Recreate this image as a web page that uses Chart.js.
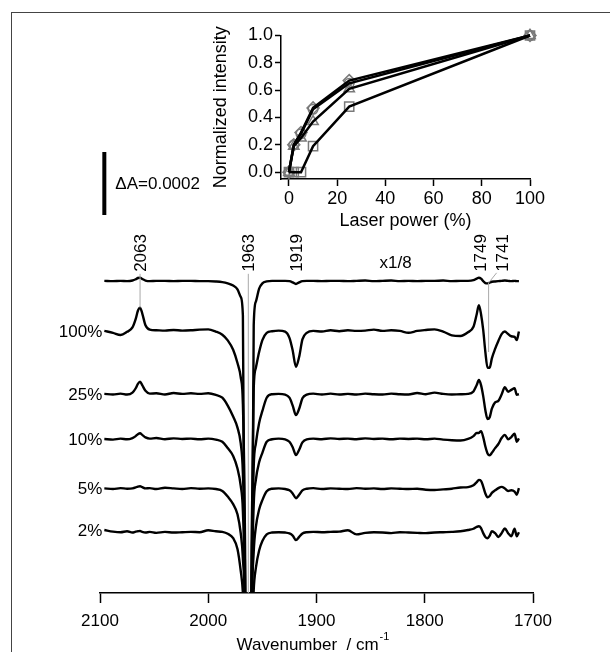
<!DOCTYPE html>
<html>
<head>
<meta charset="utf-8">
<script src="https://cdn.jsdelivr.net/npm/chart.js@4.4.0/dist/chart.umd.min.js"></script>
<style>
  html, body { margin: 0; padding: 0; background: #fff; overflow: hidden; }
  #wrap { position: relative; width: 610px; height: 652px; overflow: hidden; }
  #frame { position: absolute; left: 11px; top: 12px; width: 800px; height: 800px; border: 1.5px solid #444; }
  canvas { position: absolute; left: 0; top: 0; }
</style>
</head>
<body>
<div id="wrap">
  <div id="frame"></div>
  <canvas id="spectra" width="610" height="652"></canvas>
  <canvas id="inset" width="610" height="652"></canvas>
</div>
<script>
// Difference spectra, offset for display. Units: absorbance x 1e5
const wavenumbers = [
  2096, 2088, 2081, 2075, 2070, 2067, 2065, 2063, 2061,
  2058, 2054, 2048, 2040, 2032, 2024, 2016, 2008, 2000,
  1993, 1987, 1982, 1977, 1973, 1970, 1968, 1966, 1963,
  1960, 1958, 1956, 1953, 1950, 1946, 1941, 1935, 1929,
  1925, 1922, 1919, 1916, 1913, 1909, 1903, 1895, 1887,
  1879, 1871, 1863, 1855, 1847, 1839, 1831, 1823, 1815,
  1807, 1799, 1791, 1783, 1775, 1767, 1760, 1755, 1752,
  1750, 1748, 1746, 1744, 1742, 1740, 1738, 1735, 1732,
  1729, 1726, 1723, 1720, 1717, 1715, 1713
];

// reference spectrum, scaled x1/8
const traceTop = [
  99.1, 99.0, 99.1, 99.0, 99.2, 99.6, 100.0, 100.1, 99.7,
  99.2, 99.0, 99.1, 99.1, 99.0, 99.1, 99.1, 99.0, 99.0,
  98.9, 98.7, 98.3, 97.6, 96.4, 94.0, 88.0, -30, -150,
  -30, 85.0, 92.5, 96.6, 98.3, 98.9, 99.1, 99.1, 99.1,
  99.0, 98.6, 98.1, 98.6, 99.0, 99.1, 99.1, 99.0, 99.1,
  99.1, 99.0, 99.1, 99.2, 99.0, 99.1, 99.2, 99.0, 99.1,
  99.0, 99.1, 99.1, 99.2, 99.0, 99.1, 99.1, 99.3, 99.8,
  100.1, 99.8, 99.0, 98.4, 98.3, 98.5, 98.8, 98.9, 99.0,
  99.1, 99.2, 99.1, 99.0, 99.1, 99.0, 99.0
];

const trace100 = [
  83.2, 82.6, 81.9, 82.9, 84.3, 87.0, 89.6, 90.6, 88.8,
  85.0, 83.6, 83.4, 83.3, 83.5, 83.3, 83.4, 83.6, 83.7,
  83.0, 82.0, 80.2, 77.2, 73.0, 68.5, 60.0, 15, -150,
  15, 65.0, 71.5, 76.5, 80.3, 82.6, 83.1, 83.3, 83.0,
  81.0, 77.0, 71.8, 75.0, 80.5, 82.6, 83.2, 83.0, 83.4,
  83.1, 83.4, 83.2, 83.3, 83.6, 83.2, 83.4, 83.2, 82.6,
  83.2, 83.5, 83.7, 83.0, 81.8, 81.6, 82.8, 84.5, 88.5,
  91.4, 88.5, 83.5, 76.5, 71.5, 71.5, 74.5, 77.5, 80.0,
  82.2, 83.0, 82.2, 81.5, 81.3, 80.3, 83.0
];

const trace25 = [
  63.2, 63.0, 63.3, 63.0, 63.6, 65.0, 66.4, 67.1, 66.0,
  64.2, 63.3, 63.4, 63.0, 63.5, 63.2, 63.4, 63.2, 63.4,
  62.9, 62.0, 59.5, 56.0, 52.5, 47.5, 38.0, 5, -150,
  0, 40.0, 47.5, 54.0, 57.8, 62.0, 63.1, 63.2, 63.0,
  62.0, 59.5, 56.5, 58.5, 61.8, 63.0, 63.3, 63.0, 63.3,
  63.0, 63.2, 63.0, 63.3, 63.1, 63.0, 63.3, 63.1, 63.0,
  63.5, 63.1, 63.6, 63.2, 63.0, 63.1, 63.2, 64.0, 66.0,
  67.6, 66.0, 62.5, 58.0, 55.2, 55.8, 58.5, 60.5, 61.0,
  63.0, 65.3, 63.9, 64.5, 65.0, 62.9, 63.1
];

const trace10 = [
  48.9, 48.7, 49.0, 48.8, 49.2, 49.8, 50.4, 50.7, 50.2,
  49.4, 49.0, 49.2, 48.8, 49.1, 48.9, 49.0, 48.8, 49.0,
  48.7, 48.0, 46.0, 43.5, 39.5, 34.0, 26.0, -5, -150,
  -5, 28.0, 36.0, 41.5, 44.5, 48.0, 48.8, 49.0, 48.8,
  48.0, 46.3, 43.8, 45.5, 47.8, 48.8, 49.0, 48.8, 49.1,
  48.9, 49.0, 48.8, 49.1, 48.9, 49.0, 48.8, 49.0, 48.9,
  49.0, 48.8, 49.0, 48.7, 48.5, 48.4, 48.9, 49.8, 50.8,
  50.8, 51.4, 49.5, 46.5, 44.3, 43.7, 44.5, 46.0, 47.3,
  49.2, 50.2, 48.8, 49.5, 50.6, 48.0, 49.1
];

const trace5 = [
  33.2, 33.0, 33.3, 33.1, 33.2, 33.5, 33.8, 33.9, 33.6,
  33.2, 33.3, 33.0, 33.4, 33.2, 33.0, 33.3, 33.1, 33.2,
  33.0, 32.4, 30.6, 28.2, 25.0, 19.0, 11.0, -10, -150,
  -10, 13.0, 21.0, 26.5, 29.5, 32.3, 33.1, 33.2, 33.0,
  32.6, 31.6, 30.1, 31.2, 32.6, 33.1, 33.3, 33.0, 33.2,
  33.1, 33.0, 33.3, 33.1, 33.2, 33.0, 33.2, 33.1, 33.0,
  33.1, 32.8, 32.7, 32.9, 33.1, 33.5, 33.6, 34.2, 35.2,
  35.9, 35.6, 33.8, 31.6, 30.4, 30.8, 31.8, 32.6, 33.3,
  33.7, 33.2, 32.4, 32.6, 32.2, 31.2, 33.3
];

const trace2 = [
  20.0, 19.5, 19.3, 19.6, 19.2, 19.5, 19.6, 19.7, 19.4,
  19.2, 19.4, 19.1, 19.4, 19.2, 19.3, 19.4, 19.3, 19.9,
  19.6, 19.4, 18.8, 17.4, 14.0, 7.0, 0.0, -20, -150,
  -20, 1.0, 8.0, 13.5, 16.5, 18.6, 19.2, 19.3, 19.2,
  18.9, 18.2, 16.8, 17.8, 18.9, 19.3, 19.4, 19.3, 19.4,
  19.5, 19.9, 18.6, 19.1, 19.3, 19.2, 19.0, 19.3, 19.2,
  19.1, 19.0, 19.2, 19.3, 19.4, 19.6, 20.0, 20.4, 21.0,
  21.2, 20.6, 19.0, 17.8, 17.4, 18.2, 19.6, 19.0, 17.8,
  19.0, 20.5, 19.0, 18.0, 20.4, 18.0, 19.3
];

const traces = [traceTop, trace100, trace25, trace10, trace5, trace2];
const traceLabels = ['100%', '25%', '10%', '5%', '2%'];
const peakMarks = [2063, 1963, 1919, 1749, 1741];
const scaleBarSize = 20;    // 0.0002 absorbance
const scaleBarTop = 140;

// Inset: normalized band intensity vs laser power
const laserPower = [0, 2, 5, 10, 25, 100];
const bandCircle = [0, 0.20, 0.28, 0.46, 0.65, 1.0];
const bandDiamond = [0, 0.20, 0.29, 0.47, 0.67, 1.0];
const bandTriangle = [0, 0.19, 0.25, 0.37, 0.61, 1.0];
const bandSquare = [0, 0.00, 0.00, 0.19, 0.48, 1.0];

const FONT = "'Liberation Sans', Arial, sans-serif";
Chart.defaults.font.family = FONT;
Chart.defaults.color = '#000';

const spectraDecor = {
  id: 'spectraDecor',
  afterDatasetsDraw(chart) {
    const { ctx, chartArea } = chart;
    const x = chart.scales.x;
    const y = chart.scales.y;
    const idx = (w) => wavenumbers.indexOf(w);
    ctx.save();
    ctx.fillStyle = '#000';
    ctx.font = `17px ${FONT}`;

    // percentage labels at the left end of each spectrum
    ctx.textAlign = 'right';
    ctx.textBaseline = 'middle';
    const leftEdge = x.getPixelForValue(wavenumbers[0]);
    traceLabels.forEach((label, i) => {
      ctx.fillText(label, leftEdge - 2, y.getPixelForValue(traces[i + 1][0]) + 1);
    });

    // peak position labels, rotated
    const labelFoot = y.getPixelForValue(traceTop[0]) - 9;
    peakMarks.forEach((w) => {
      const px = x.getPixelForValue(w) + (w === 1741 ? 14 : 0);
      ctx.save();
      ctx.translate(px + 1, labelFoot);
      ctx.rotate(-Math.PI / 2);
      ctx.textAlign = 'left';
      ctx.textBaseline = 'middle';
      ctx.fillText(String(w), 0, 0);
      ctx.restore();
    });

    // gray guide lines
    ctx.strokeStyle = '#a8a8a8';
    ctx.lineWidth = 1;
    ctx.beginPath();
    const x2063 = x.getPixelForValue(2063);
    ctx.moveTo(x2063, labelFoot + 2);
    ctx.lineTo(x2063, y.getPixelForValue(trace100[idx(2063)]));
    const x1963 = x.getPixelForValue(1963);
    ctx.moveTo(x1963, labelFoot + 2);
    ctx.lineTo(x1963, chartArea.bottom);
    const x1741 = x.getPixelForValue(1741);
    ctx.moveTo(x1741 + 8, labelFoot + 1);
    ctx.lineTo(x1741, labelFoot + 11);
    ctx.lineTo(x1741, y.getPixelForValue(trace100[idx(1744)]));
    ctx.stroke();

    // scale note for the top spectrum
    ctx.textAlign = 'center';
    ctx.fillText('x1/8', x.getPixelForValue(1827), y.getPixelForValue(traceTop[0]) - 18);

    // absorbance scale bar
    const barTop = y.getPixelForValue(scaleBarTop);
    const barBottom = y.getPixelForValue(scaleBarTop - scaleBarSize);
    const barX = x.getPixelForValue(wavenumbers[0]);
    ctx.fillRect(barX - 2, barTop, 4, barBottom - barTop);
    ctx.textAlign = 'left';
    ctx.fillText('\u0394A=0.0002', barX + 11, (barTop + barBottom) / 2 + 1);

    // axis title with superscript
    const main = 'Wavenumber  / cm';
    const mainW = ctx.measureText(main).width;
    ctx.font = `11px ${FONT}`;
    const supW = ctx.measureText('-1').width;
    const cx = (chartArea.left + chartArea.right) / 2 - 4;
    const startX = cx - (mainW + supW) / 2;
    ctx.font = `17px ${FONT}`;
    ctx.fillText(main, startX, 645);
    ctx.font = `11px ${FONT}`;
    ctx.fillText('-1', startX + mainW + 1, 637);
    ctx.restore();
  }
};

new Chart(document.getElementById('spectra'), {
  type: 'line',
  data: {
    datasets: traces.map((t) => ({
      data: wavenumbers.map((w, i) => ({ x: w, y: t[i] })),
      borderColor: '#000',
      borderWidth: 2.4,
      pointRadius: 0,
      cubicInterpolationMode: 'monotone'
    }))
  },
  options: {
    responsive: false,
    animation: false,
    events: [],
    layout: { padding: { left: 100, right: 77, top: 120.5, bottom: 0 } },
    plugins: { legend: { display: false }, tooltip: { enabled: false } },
    scales: {
      x: {
        type: 'linear',
        min: 1700,
        max: 2100,
        reverse: true,
        afterFit: (s) => { s.height = 59; },
        border: { display: true, color: '#000', width: 1.5 },
        grid: { drawOnChartArea: false, drawTicks: true, tickLength: 10, tickWidth: 1.5, tickColor: '#000' },
        ticks: {
          stepSize: 100,
          padding: 8,
          maxRotation: 0,
          font: { size: 17 },
          callback: (v) => String(v)
        }
      },
      y: { display: false, min: 0, max: 150 }
    }
  },
  plugins: [spectraDecor]
});

const markerSet = (vals, style, radius) => ({
  data: laserPower.map((p, i) => ({ x: p, y: vals[i] })),
  showLine: false,
  pointStyle: style,
  pointRadius: radius,
  pointBorderWidth: 1.5,
  pointBorderColor: '#7a7a7a',
  pointBackgroundColor: 'rgba(0,0,0,0)',
  clip: false,
  order: 1
});

const lineSet = (vals) => ({
  data: laserPower.map((p, i) => ({ x: p, y: vals[i] })),
  borderColor: '#000',
  borderWidth: 2.5,
  pointRadius: 0,
  clip: false,
  order: 0
});

new Chart(document.getElementById('inset'), {
  type: 'line',
  data: {
    datasets: [
      markerSet(bandSquare, 'rect', 6.5),
      markerSet(bandTriangle, 'triangle', 6),
      markerSet(bandDiamond, 'rectRot', 6),
      markerSet(bandCircle, 'circle', 4.8),
      lineSet(bandSquare),
      lineSet(bandTriangle),
      lineSet(bandDiamond),
      lineSet(bandCircle)
    ]
  },
  options: {
    responsive: false,
    animation: false,
    events: [],
    layout: { padding: { left: 210, right: 80, top: 35.5, bottom: 420 } },
    plugins: { legend: { display: false }, tooltip: { enabled: false } },
    scales: {
      x: {
        type: 'linear',
        min: -3.3,
        max: 100,
        afterFit: (s) => { s.height = 53; },
        border: { display: true, color: '#000', width: 1.5 },
        grid: { drawOnChartArea: false, drawTicks: true, tickLength: 7, tickWidth: 1.5, tickColor: '#000' },
        ticks: {
          stepSize: 20,
          includeBounds: false,
          padding: 2,
          maxRotation: 0,
          font: { size: 18 },
          callback: (v) => String(v)
        },
        title: { display: true, text: 'Laser power (%)', font: { size: 18 }, padding: 0 }
      },
      y: {
        type: 'linear',
        min: -0.05,
        max: 1.0,
        afterFit: (s) => { s.width = 71; },
        border: { display: true, color: '#000', width: 1.5 },
        grid: { drawOnChartArea: false, drawTicks: true, tickLength: 6, tickWidth: 1.5, tickColor: '#000' },
        ticks: {
          stepSize: 0.2,
          includeBounds: false,
          padding: 2,
          font: { size: 18 },
          callback: (v) => Number(v).toFixed(1)
        },
        title: { display: true, text: 'Normalized intensity', font: { size: 18 }, padding: 0 }
      }
    }
  }
});
</script>
</body>
</html>
